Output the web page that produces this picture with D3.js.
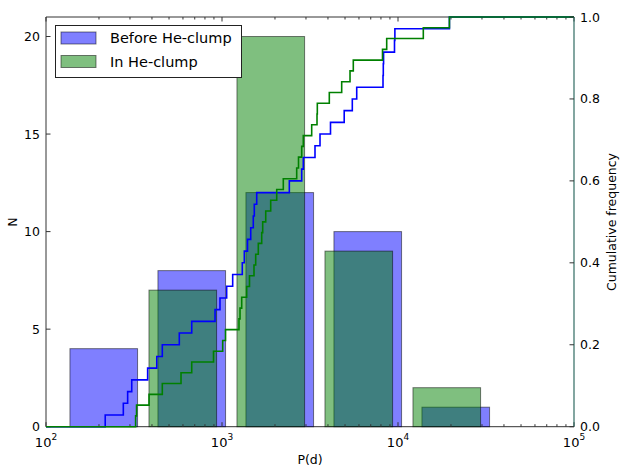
<!DOCTYPE html>
<html>
<head>
<meta charset="utf-8">
<script src="https://cdn.jsdelivr.net/npm/d3@7"></script>
<style>
  body { margin: 0; background: #fff; }
  svg { display: block; }
  text { font-family: "DejaVu Sans", Verdana, sans-serif; fill: #000; }
</style>
</head>
<body>
<svg id="chart" width="620" height="467"></svg>
<script>
// Orbital periods P (days) of the two samples
const periodsBefore = [217, 275, 291, 307, 378, 426, 458, 572, 673, 913, 974, 1063,
  1150, 1304, 1339, 1396, 1456, 1506, 1526, 1575, 2413, 2837, 2897, 3376,
  3605, 4135, 4947, 5500, 5827, 8219, 8250, 8280, 9552, 9600, 19600];
const periodsInClump = [323, 327, 385, 458, 585, 673, 895, 1009, 1047, 1249, 1266, 1294,
  1381, 1433, 1520, 1554, 1608, 1681, 1703, 1772, 1891, 2046, 2230, 2657,
  2721, 2837, 2897, 3233, 3466, 3480, 4071, 4787, 5338, 5572, 8166, 8626,
  13925, 19600];

// Histogram bin edges, as log10(P)
const binEdgesBefore = [2.051, 2.551, 3.051, 3.551, 4.051, 4.551];
const binEdgesInClump = [2.5, 3.0, 3.5, 4.0, 4.5];

const seriesNames = ["Before He-clump", "In He-clump"];
const xTickExponents = [2, 3, 4, 5];
const countTicks = [0, 5, 10, 15, 20];
const cumTicks = [0, 0.2, 0.4, 0.6, 0.8, 1.0];

const colors = { before: "#0000ff", clump: "#008000" };

const svg = d3.select("#chart");
const m = { left: 46, right: 574, top: 17, bottom: 426.7 };

const x = d3.scaleLog().domain([1e2, 1e5]).range([m.left, m.right]);
const yN = d3.scaleLinear().domain([0, 21]).range([m.bottom, m.top]);
const yC = d3.scaleLinear().domain([0, 1]).range([m.bottom, m.top]);

function histogram(values, edgesLog) {
  const edges = edgesLog.map(e => Math.pow(10, e));
  return d3.bin()
    .domain([edges[0], edges[edges.length - 1]])
    .thresholds(edges.slice(1, -1))(values);
}

// Bars take 80% of each bin, centred in linear P
function drawBars(bins, color) {
  svg.append("g").selectAll("rect").data(bins).join("rect")
    .attr("x", d => {
      const c = (d.x0 + d.x1) / 2, w = 0.8 * (d.x1 - d.x0);
      return x(c - w / 2);
    })
    .attr("width", d => {
      const c = (d.x0 + d.x1) / 2, w = 0.8 * (d.x1 - d.x0);
      return x(c + w / 2) - x(c - w / 2);
    })
    .attr("y", d => yN(d.length))
    .attr("height", d => yN(0) - yN(d.length))
    .attr("fill", color).attr("fill-opacity", 0.5)
    .attr("stroke", "#000").attr("stroke-opacity", 0.5).attr("stroke-width", 1);
}

// Frame (left, top, bottom)
const frame = svg.append("g").attr("stroke", "#333").attr("stroke-width", 1).attr("fill", "none");
frame.append("line").attr("x1", m.left).attr("x2", m.left).attr("y1", m.top).attr("y2", m.bottom);
frame.append("line").attr("x1", m.left).attr("x2", m.right).attr("y1", m.top).attr("y2", m.top);
frame.append("line").attr("x1", m.left).attr("x2", m.right).attr("y1", m.bottom).attr("y2", m.bottom);

drawBars(histogram(periodsBefore, binEdgesBefore), colors.before);
drawBars(histogram(periodsInClump, binEdgesInClump), colors.clump);

// Log-x ticks on bottom and top (inside), majors at decades, minors at 2..9
const ticksG = svg.append("g").attr("stroke", "#333").attr("stroke-width", 1);
xTickExponents.forEach((e, i) => {
  const major = Math.pow(10, e);
  [m.bottom, m.top].forEach(yy => {
    const dir = yy === m.bottom ? -1 : 1;
    ticksG.append("line").attr("x1", x(major)).attr("x2", x(major))
      .attr("y1", yy).attr("y2", yy + dir * 4.5);
    if (i < xTickExponents.length - 1) {
      for (let k = 2; k <= 9; k++) {
        const v = k * major;
        ticksG.append("line").attr("x1", x(v)).attr("x2", x(v))
          .attr("y1", yy).attr("y2", yy + dir * 2.5);
      }
    }
  });
  const t = svg.append("text").attr("x", x(major)).attr("y", 447)
    .attr("text-anchor", "middle").style("font-size", "13px");
  t.append("tspan").text("10");
  t.append("tspan").attr("dy", -7).style("font-size", "9px").text(String(e));
});

// Left axis: counts
countTicks.forEach(v => {
  ticksG.append("line").attr("x1", m.left).attr("x2", m.left + 4.5)
    .attr("y1", yN(v)).attr("y2", yN(v));
  svg.append("text").attr("x", 40).attr("y", yN(v)).attr("dy", "0.36em")
    .attr("text-anchor", "end").style("font-size", "12.5px").text(v);
});

// Cumulative frequency step curves
function cdfPoints(values) {
  const s = values.slice().sort((a, b) => a - b);
  const pts = [[x.domain()[0], 0]];
  s.forEach((v, i) => pts.push([v, (i + 1) / s.length]));
  pts.push([x.domain()[1], 1]);
  return pts;
}
const stepLine = d3.line().x(d => x(d[0])).y(d => yC(d[1])).curve(d3.curveStepAfter);
svg.append("path").datum(cdfPoints(periodsBefore))
  .attr("d", stepLine).attr("fill", "none")
  .attr("stroke", colors.before).attr("stroke-width", 1.6);
svg.append("path").datum(cdfPoints(periodsInClump))
  .attr("d", stepLine).attr("fill", "none")
  .attr("stroke", colors.clump).attr("stroke-width", 1.6);

// Right axis: cumulative frequency
svg.append("line").attr("x1", m.right).attr("x2", m.right)
  .attr("y1", m.top).attr("y2", m.bottom)
  .attr("stroke", "#2f6b62").attr("stroke-width", 1.2);
cumTicks.forEach(v => {
  svg.append("line").attr("x1", m.right).attr("x2", m.right - 4.5)
    .attr("y1", yC(v)).attr("y2", yC(v)).attr("stroke", "#333");
  svg.append("text").attr("x", 580).attr("y", yC(v)).attr("dy", "0.36em")
    .style("font-size", "12.5px").text(v.toFixed(1));
});

// Axis titles
svg.append("text").attr("x", 310).attr("y", 464).attr("text-anchor", "middle")
  .style("font-size", "12.5px").text("P(d)");
svg.append("text").attr("transform", "translate(17,222) rotate(-90)")
  .attr("text-anchor", "middle").style("font-size", "12.5px").text("N");
svg.append("text").attr("transform", "translate(616,222) rotate(-90)")
  .attr("text-anchor", "middle").style("font-size", "12.5px").text("Cumulative frequency");

// Legend
const lg = svg.append("g");
lg.append("rect").attr("x", 55.5).attr("y", 25.5).attr("width", 186).attr("height", 52)
  .attr("fill", "#fff").attr("stroke", "#222").attr("stroke-width", 1);
[colors.before, colors.clump].forEach((c, i) => {
  const yy = 32 + i * 23.5;
  lg.append("rect").attr("x", 61).attr("y", yy).attr("width", 35).attr("height", 12)
    .attr("fill", c).attr("fill-opacity", 0.5)
    .attr("stroke", "#000").attr("stroke-opacity", 0.5);
  lg.append("text").attr("x", 110).attr("y", yy + 6).attr("dy", "0.36em")
    .style("font-size", "14.5px").text(seriesNames[i]);
});
</script>
</body>
</html>
